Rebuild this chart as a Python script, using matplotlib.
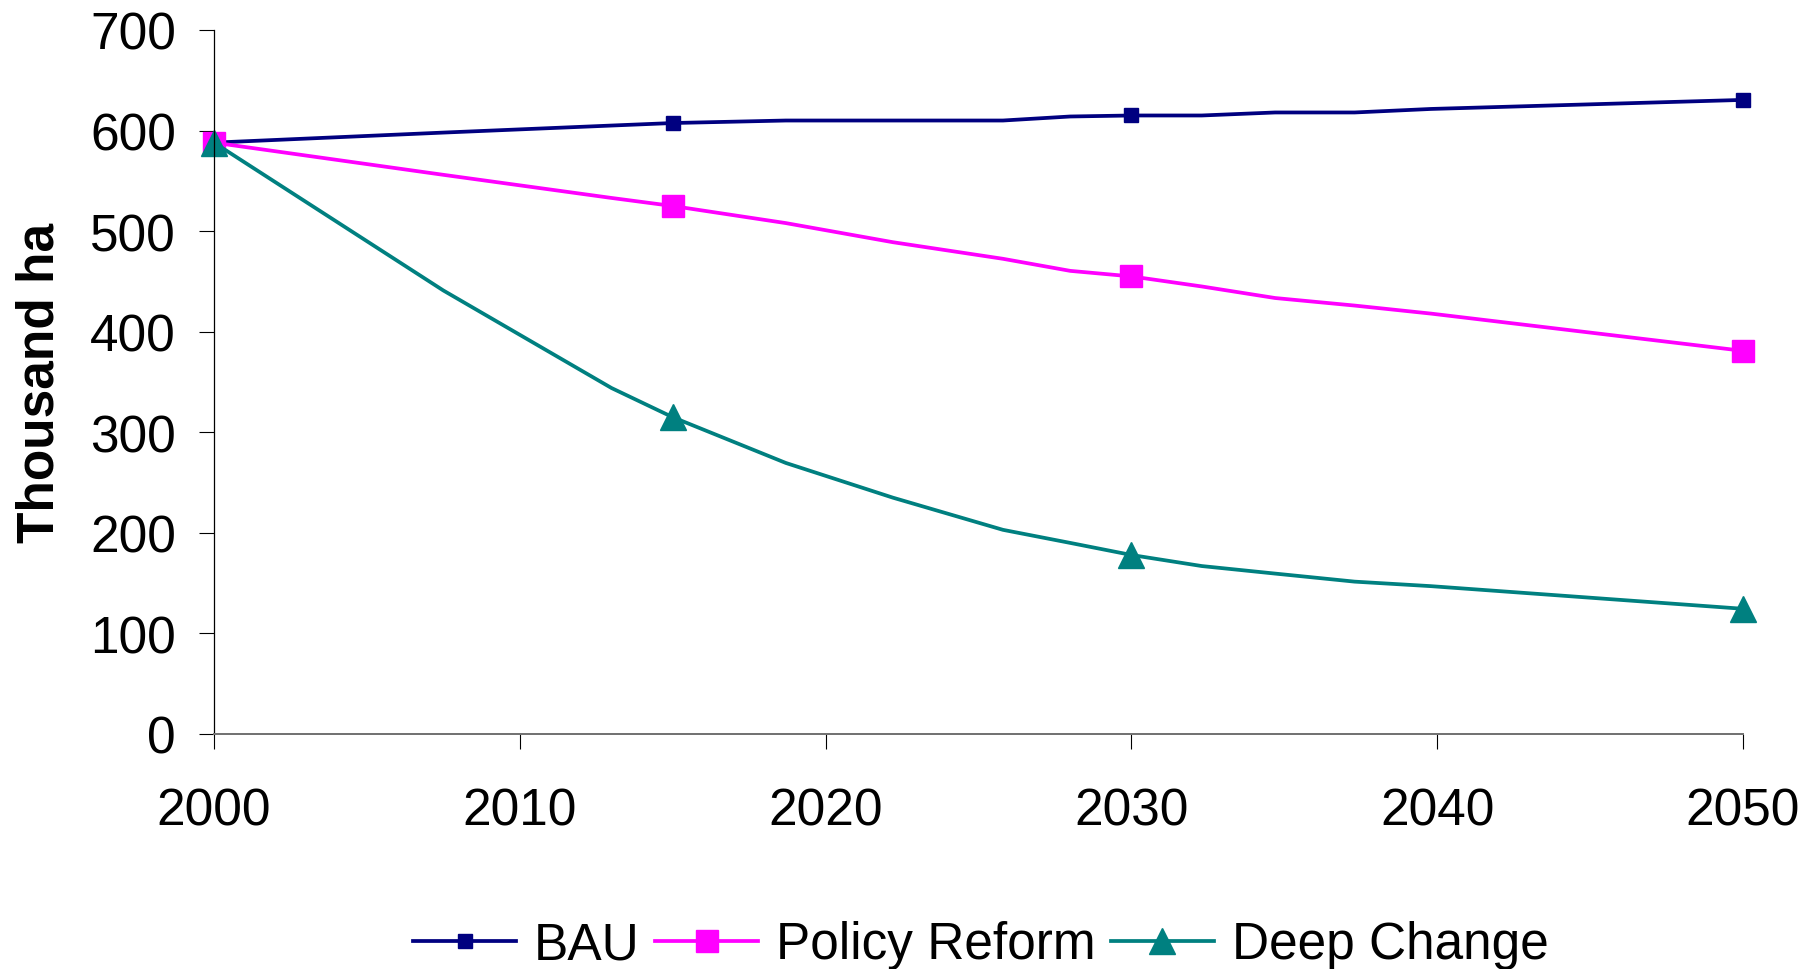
import matplotlib
matplotlib.use("Agg")
import matplotlib.pyplot as plt

years = [2000, 2007.5, 2013, 2015, 2018.7, 2022.2, 2025.8, 2028, 2030, 2032.3, 2034.7, 2037.3, 2039.8, 2050]
bau = [588, 598, 605, 607.5, 610, 610, 610, 614, 615, 615, 618, 618, 621.5, 630.5]
policy_reform = [588, 556, 533, 525, 508, 489, 472.5, 460.5, 455, 445, 433.5, 426, 418, 381]
deep_change = [588, 441, 344, 315, 269.5, 235, 203, 190, 178, 167, 159.5, 151.5, 147, 124.5]
marker_years_idx = [0, 3, 8, 13]

x_ticks = [2000, 2010, 2020, 2030, 2040, 2050]
y_ticks = [0, 100, 200, 300, 400, 500, 600, 700]

plt.rcParams['font.family'] = ['Liberation Sans', 'DejaVu Sans']
FS = 37

fig = plt.figure(figsize=(18.14, 9.70), dpi=100)
ax = fig.add_axes([214/1814, 1-735/970, (1743-214)/1814, (735-31)/970])

LW = 2.7
ax.plot(years, bau, color='#000080', lw=LW, marker='s', ms=10.5,
        markevery=marker_years_idx, clip_on=False, label='BAU')
ax.plot(years, policy_reform, color='#FF00FF', lw=LW, marker='s', ms=16,
        markevery=marker_years_idx, clip_on=False, label='Policy Reform')
ax.plot(years, deep_change, color='#008080', lw=LW, marker='^', ms=19,
        markevery=marker_years_idx, clip_on=False, label='Deep Change')

ax.set_xlim(2000, 2050)
ax.set_ylim(0, 700)
ax.set_xticks(x_ticks)
ax.set_yticks(y_ticks)
ax.tick_params(axis='x', direction='out', length=15*0.72, width=0.8, pad=27, labelsize=FS)
ax.tick_params(axis='y', direction='out', length=15*0.72, width=0.8, pad=16.5, labelsize=FS)

for s in ['top', 'right']:
    ax.spines[s].set_visible(False)
ax.spines['left'].set_color('black')
ax.spines['left'].set_linewidth(0.9)
ax.spines['bottom'].set_color('#707070')
ax.spines['bottom'].set_linewidth(1.4)

ax.set_ylabel('Thousand ha', fontsize=FS, fontweight='bold')
ax.yaxis.set_label_coords(-0.098, 0.5)

fig.legend(loc='center', bbox_to_anchor=(981/1814, 1-946/970), ncol=3, frameon=False,
           fontsize=FS, handlelength=2.0, handletextpad=0.35, columnspacing=0.3,
           numpoints=1, borderaxespad=0)

fig.savefig('out.png', dpi=100)
